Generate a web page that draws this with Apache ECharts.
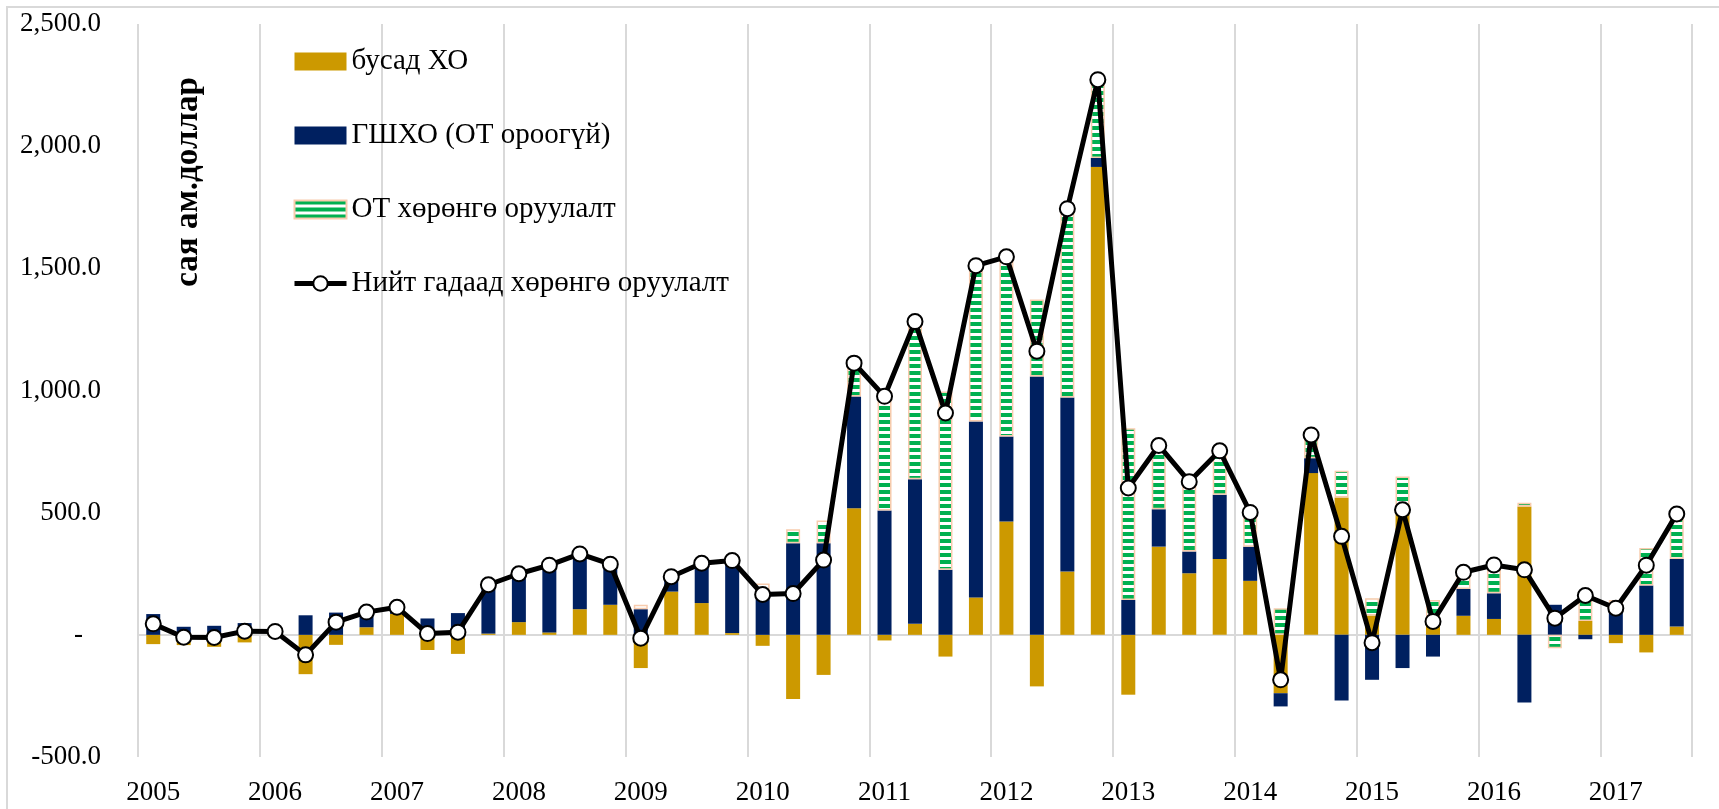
<!DOCTYPE html>
<html>
<head>
<meta charset="utf-8">
<title>Гадаад хөрөнгө оруулалт</title>
<script src="https://cdn.jsdelivr.net/npm/echarts@6/dist/echarts.min.js"></script>
<style>
	html, body { margin: 0; padding: 0; background: #fff; }
	#chart { width: 1719px; height: 809px; }
</style>
</head>
<body>
<div id="chart"></div>
<script>
	// улирлаар, сая ам.доллар
	var quarters = [
		'2005Q1', '2005Q2', '2005Q3', '2005Q4',
		'2006Q1', '2006Q2', '2006Q3', '2006Q4',
		'2007Q1', '2007Q2', '2007Q3', '2007Q4',
		'2008Q1', '2008Q2', '2008Q3', '2008Q4',
		'2009Q1', '2009Q2', '2009Q3', '2009Q4',
		'2010Q1', '2010Q2', '2010Q3', '2010Q4',
		'2011Q1', '2011Q2', '2011Q3', '2011Q4',
		'2012Q1', '2012Q2', '2012Q3', '2012Q4',
		'2013Q1', '2013Q2', '2013Q3', '2013Q4',
		'2014Q1', '2014Q2', '2014Q3', '2014Q4',
		'2015Q1', '2015Q2', '2015Q3', '2015Q4',
		'2016Q1', '2016Q2', '2016Q3', '2016Q4',
		'2017Q1', '2017Q2', '2017Q3'
	];

	var busadHO = [
		-38, -42, -49, -31,
		-7, -161, -41, 31,
		86, -62, -78, 5,
		52, 10, 105, 123,
		-136, 177, 130, 7,
		-45, -263, -164, 518,
		-23, 45, -89, 153,
		464, -211, 259, 1915,
		-245, 361, 252, 310,
		221, -239, 662, 562,
		79, 498, 75, 78,
		65, 525, 0, 57,
		-34, -72, 34
	];

	var gshho = [
		85, 33, 37, 48,
		22, 80, 91, 62,
		27, 67, 89, 200,
		198, 274, 225, 165,
		105, 58, 162, 298,
		165, 375, 375, 457,
		509, 592, 266, 720,
		348, 1057, 712, 37,
		143, 153, 89, 263,
		140, -54, 61, -269,
		-184, -136, -89, 110,
		105, -277, 123, -18,
		120, 202, 276
	];

	var otHO = [
		0, 0, 0, 0,
		0, 0, 0, 0,
		0, 0, 0, 0,
		0, 0, 0, 0,
		18, 0, 0, 0,
		45, 57, 93, 137,
		489, 645, 730, 638,
		735, 315, 773, 320,
		703, 261, 286, 180,
		140, 109, 95, 110,
		71, 150, 68, 68,
		116, 16, -55, 122,
		23, 153, 185
	];

	var niit = [
		45, -10, -11, 15,
		14, -82, 52, 93,
		113, 5, 11, 205,
		250, 285, 331, 289,
		-14, 238, 293, 304,
		165, 169, 306, 1112,
		976, 1282, 908, 1511,
		1547, 1161, 1744, 2272,
		601, 775, 627, 753,
		501, -184, 818, 403,
		-32, 512, 55, 256,
		286, 266, 68, 161,
		109, 285, 495
	];

	var seriesNames = ['бусад ХО', 'ГШХО (ОТ ороогүй)', 'ОТ хөрөнгө оруулалт', 'Нийт гадаад хөрөнгө оруулалт'];

	var fontName = '"Liberation Serif", "Times New Roman", serif';

	// ногоон хэвтээ судал
	function stripeFn() {
		var cv = document.createElement('canvas');
		cv.width = 6;
		cv.height = 7;
		var ctx = cv.getContext('2d');
		ctx.fillStyle = '#ffffff';
		ctx.fillRect(0, 0, 6, 7);
		ctx.fillStyle = '#00B050';
		ctx.fillRect(0, 0, 6, 4);
		return cv;
	};

	function numFmt(v) {
		if (v === 0) return '{z|-}';
		var s = Math.abs(v).toFixed(1).replace(/\B(?=(\d{3})+(?!\d))/g, ',');
		return (v < 0 ? '-' : '') + s;
	};

	// тэг утгатай баганын хүрээ зурахгүй
	function noZero(arr) {
		return arr.map(function(v) {
			return v === 0 ? '-' : v;
		});
	};

	var myChart = echarts.init(document.getElementById('chart'));

	var option = {
		animation: false,
		backgroundColor: '#ffffff',
		textStyle: {
			fontFamily: fontName
		},
		grid: {
			left: 138,
			right: 27,
			top: 24,
			bottom: 52
		},
		legend: {
			orient: 'vertical',
			left: 292,
			top: 47,
			padding: 0,
			itemWidth: 52,
			itemHeight: 18,
			itemGap: 45,
			lineStyle: {
				width: 5
			},
			textStyle: {
				fontFamily: fontName,
				fontSize: 29,
				lineHeight: 28,
				color: '#000'
			},
			data: [
				{ name: seriesNames[0], icon: 'rect' },
				{ name: seriesNames[1], icon: 'rect' },
				{ name: seriesNames[2], icon: 'rect' },
				{ name: seriesNames[3] }
			]
		},
		graphic: [{
			type: 'rect',
			silent: true,
			shape: { x: 7, y: 7, width: 1800, height: 900 },
			style: { fill: 'none', stroke: '#d9d9d9', lineWidth: 2 }
		}, {
			type: 'text',
			silent: true,
			x: 188,
			y: 182,
			rotation: Math.PI / 2,
			style: {
				text: 'сая ам.доллар',
				font: 'bold 33px ' + fontName,
				fill: '#000',
				align: 'center',
				verticalAlign: 'middle'
			}
		}],
		xAxis: [{
			type: 'category',
			data: quarters,
			boundaryGap: true,
			axisLine: {
				onZero: false,
				show: false
			},
			axisTick: {
				show: false
			},
			axisLabel: {
				interval: 3,
				margin: 22,
				fontSize: 27,
				color: '#000',
				formatter: function(v) {
					return v.slice(0, 4);
				}
			},
			splitLine: {
				show: true,
				interval: 3,
				lineStyle: {
					color: '#d9d9d9',
					width: 2
				}
			}
		}, {
			// тэгийн шугам
			type: 'category',
			data: quarters,
			position: 'bottom',
			axisLine: {
				onZero: true,
				lineStyle: {
					color: '#d9d9d9',
					width: 2
				}
			},
			axisTick: { show: false },
			axisLabel: { show: false },
			splitLine: { show: false }
		}],
		yAxis: [{
			type: 'value',
			min: -500,
			max: 2500,
			interval: 500,
			axisLine: { show: false },
			axisTick: { show: false },
			splitLine: { show: false },
			axisLabel: {
				margin: 37,
				fontSize: 27,
				color: '#000',
				formatter: numFmt,
				rich: {
					z: {
						fontFamily: fontName,
						fontSize: 27,
						color: '#000',
						padding: [0, 18, 0, 0]
					}
				}
			}
		}],
		series: [{
			name: seriesNames[0],
			type: 'bar',
			stack: 'total',
			barWidth: 14,
			data: busadHO,
			itemStyle: {
				color: '#CC9900'
			}
		}, {
			name: seriesNames[1],
			type: 'bar',
			stack: 'total',
			barWidth: 14,
			data: gshho,
			itemStyle: {
				color: '#002060'
			}
		}, {
			name: seriesNames[2],
			type: 'bar',
			stack: 'total',
			barWidth: 14,
			data: noZero(otHO),
			itemStyle: {
				color: { image: stripeFn(), repeat: 'repeat' },
				borderColor: '#F8CBAD',
				borderWidth: 1.5
			}
		}, {
			name: seriesNames[3],
			type: 'line',
			data: niit,
			z: 5,
			symbol: 'circle',
			symbolSize: 15,
			showAllSymbol: true,
			lineStyle: {
				color: '#000',
				width: 5
			},
			itemStyle: {
				color: '#fff',
				borderColor: '#000',
				borderWidth: 2
			}
		}]
	};

	myChart.setOption(option);
</script>
</body>
</html>
